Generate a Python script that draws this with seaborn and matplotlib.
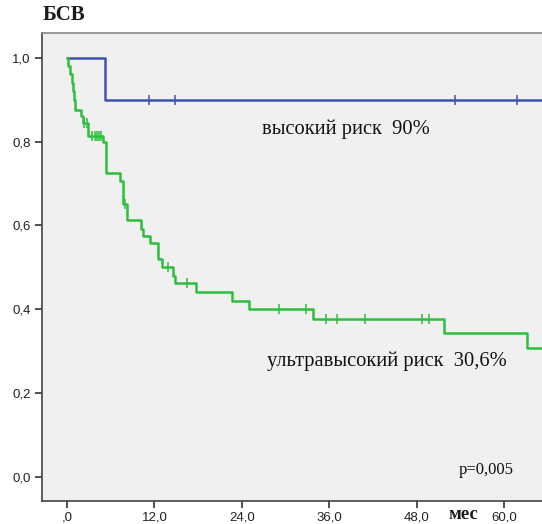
import numpy as np
import pandas as pd
import matplotlib
matplotlib.use("Agg")
import matplotlib.pyplot as plt
import seaborn as sns

# ---- data (months, survival) ----
high_event_t = [5.2]
high_event_s = [0.90]
high_censor_t = [11.25, 14.8, 53.2, 61.7]
high_end = 66.0

ultra_event_t = [0.2, 0.4, 0.65, 0.8, 0.95, 1.05, 1.9, 2.2, 2.9, 4.95, 5.3, 7.25, 7.75,
                 8.2, 10.1, 10.4, 11.4, 12.5, 13.0, 14.6, 14.8, 17.7, 22.6, 25.0, 33.8,
                 51.7, 63.1]
ultra_event_s = [0.98, 0.96, 0.94, 0.92, 0.90, 0.876, 0.86, 0.845, 0.814, 0.80, 0.724, 0.705, 0.65,
                 0.612, 0.592, 0.575, 0.557, 0.519, 0.502, 0.479, 0.462, 0.442, 0.42, 0.40, 0.376,
                 0.344, 0.309]
ultra_censor_t = [2.4, 2.7, 3.4, 3.8, 4.1, 4.4, 4.7, 7.95, 13.9, 16.5, 29.1, 32.8, 35.6, 37.0,
                  40.9, 48.7, 49.7]
ultra_end = 66.0

x_ticks = [0, 12, 24, 36, 48, 60]
x_tick_labels = [",0", "12,0", "24,0", "36,0", "48,0", "60,0"]
y_ticks = [0.0, 0.2, 0.4, 0.6, 0.8, 1.0]
y_tick_labels = ["0,0", "0,2", "0,4", "0,6", "0,8", "1,0"]

label_high = "высокий риск  90%"
label_ultra = "ультравысокий риск  30,6%"
p_text = "p=0,005"
title = "БСВ"
x_label = "мес"

BLUE = "#3F52B2"
GREEN = "#2EBE3E"


def step_frame(ev_t, ev_s, end):
    t = [0.0] + list(ev_t) + [end]
    s = [1.0] + list(ev_s) + [ev_s[-1]]
    return pd.DataFrame({"t": t, "s": s})


def censor_frame(ev_t, ev_s, c_t):
    ev_t = np.asarray(ev_t)
    ev_s = np.asarray(ev_s)
    ys = []
    for c in c_t:
        idx = np.searchsorted(ev_t, c, side="right") - 1
        ys.append(1.0 if idx < 0 else ev_s[idx])
    return pd.DataFrame({"t": c_t, "s": ys})


sns.set_theme(style="white")
plt.rcParams["font.family"] = ["Liberation Sans", "DejaVu Sans"]

fig = plt.figure(figsize=(5.42, 5.24), dpi=100)
ax = fig.add_axes([0.077, 0.0445, 0.923, 0.892])
ax.set_facecolor("#F0F0F0")

hi = step_frame(high_event_t, high_event_s, high_end)
ul = step_frame(ultra_event_t, ultra_event_s, ultra_end)
sns.lineplot(data=hi, x="t", y="s", ax=ax, color=BLUE, lw=1.8,
             drawstyle="steps-post", estimator=None, sort=False)
sns.lineplot(data=ul, x="t", y="s", ax=ax, color=GREEN, lw=1.8,
             drawstyle="steps-post", estimator=None, sort=False)

hc = censor_frame(high_event_t, high_event_s, high_censor_t)
uc = censor_frame(ultra_event_t, ultra_event_s, ultra_censor_t)
ax.plot(hc["t"], hc["s"], ls="none", marker="|", ms=7, mew=1.1, color=BLUE)
ax.plot(uc["t"], uc["s"], ls="none", marker="|", ms=7, mew=1.1, color=GREEN)

ax.set_xlim(-3.47, 65.2)
ax.set_ylim(-0.056, 1.058)
ax.set_xticks(x_ticks)
ax.set_xticklabels(x_tick_labels, fontsize=9.5, color="#222222")
ax.set_yticks(y_ticks)
ax.set_yticklabels(y_tick_labels, fontsize=9.5, color="#222222")
ax.tick_params(axis="both", direction="out", length=5, width=1.2, color="#333333",
               bottom=True, left=True, pad=3)
ax.set_xlabel("")
ax.set_ylabel("")
for side in ["left", "bottom", "top"]:
    ax.spines[side].set_visible(True)
    ax.spines[side].set_color("#444444")
    ax.spines[side].set_linewidth(1.2)
ax.spines["top"].set_color("#888888")
ax.spines["right"].set_visible(False)

serif = ["Liberation Serif", "DejaVu Serif"]
ax.text(26.7, 0.829, label_high, family=serif, fontsize=14.8, color="#111111", va="center")
ax.text(27.4, 0.276, label_ultra, family=serif, fontsize=14.8, color="#111111", va="center")
ax.text(53.8, 0.017, p_text, family=serif, fontsize=12, color="#111111", va="center")
fig.text(43 / 542, 1 - 15 / 524, title, family=serif, fontsize=15, fontweight="bold",
         color="#1a1a1a", va="center")
fig.text(463 / 542, 5 / 524, x_label, family=serif, fontsize=13.5, fontweight="bold",
         color="#1a1a1a", va="baseline", ha="center")

fig.savefig("out.png", dpi=100)
